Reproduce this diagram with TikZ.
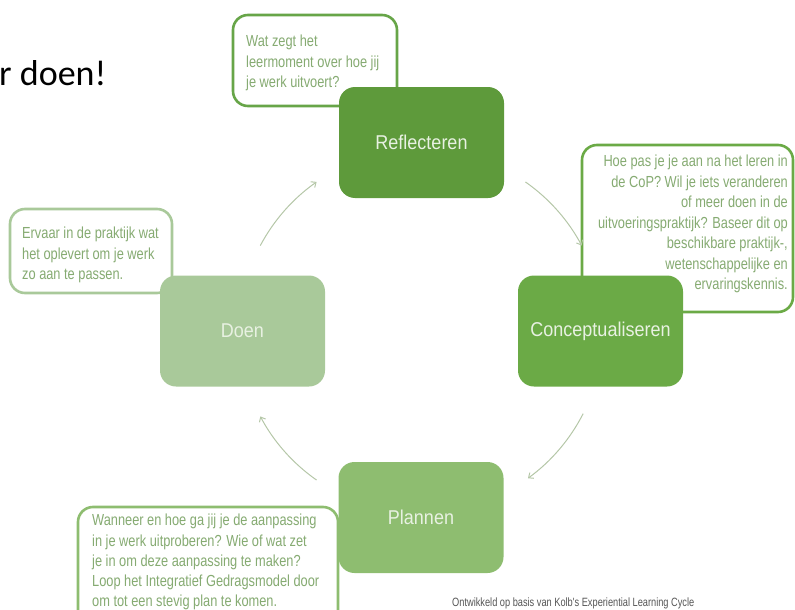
\documentclass[tikz,border=0pt]{standalone}
\usepackage{fontspec}
\setmainfont{Liberation Sans}
\newfontfamily\narrowfont[FakeStretch=0.8]{Liberation Sans}
\newfontfamily\labelfont[FakeStretch=0.9]{Liberation Sans}
\newfontfamily\footfont[FakeStretch=0.77]{Liberation Sans}
\newfontfamily\titlefont{Carlito}
\usetikzlibrary{arrows.meta}
\definecolor{reflc}{HTML}{5E9A3B}
\definecolor{concc}{HTML}{6BAA46}
\definecolor{planc}{HTML}{8EBD70}
\definecolor{doenc}{HTML}{A9C99A}
\definecolor{labeltext}{HTML}{E8F1E2}
\definecolor{calltext}{HTML}{86AB72}
\definecolor{arrowc}{HTML}{B5C7A8}
\definecolor{topborder}{HTML}{67A548}
\definecolor{foottext}{HTML}{555555}
\tikzset{
  stagebox/.style={rectangle, rounded corners=16pt, minimum width=165pt, minimum height=111pt, inner sep=0pt, font=\labelfont\fontsize{20}{24}\selectfont, text=labeltext},
  callout/.style={rectangle, rounded corners=15pt, line width=2.6pt, fill=white, inner sep=0pt},
  callouttext/.style={inner sep=0pt, font=\narrowfont\fontsize{16}{20.5}\selectfont, text=calltext},
  cyc/.style={draw=arrowc, line width=1pt, -{Straight Barb[length=4pt,width=7pt]}}
}
\begin{document}
\begin{tikzpicture}[x=1pt,y=1pt]
\useasboundingbox (0,0) rectangle (795,-610);
\clip (0,0) rectangle (795,-610);
% callouts
\node[callout, draw=topborder, minimum width=164pt, minimum height=91pt] (cT) at (315,-60.5) {};
\node[callout, draw=concc, minimum width=211pt, minimum height=167pt] (cR) at (687.5,-228.5) {};
\node[callout, draw=doenc, minimum width=162pt, minimum height=84pt] (cL) at (91,-251) {};
\node[callout, draw=planc, minimum width=260pt, minimum height=123pt] (cB) at (208,-568.5) {};
% callout texts
\node[callouttext, anchor=north west, align=left] (tT) at (246,-35) {Wat zegt het\\leermoment over hoe jij\\je werk uitvoert?};
\node[callouttext, anchor=north east, align=right] (tR) at (788,-155) {Hoe pas je je aan na het leren in\\de CoP? Wil je iets veranderen\\of meer doen in de\\uitvoeringspraktijk? Baseer dit op\\beschikbare praktijk-,\\wetenschappelijke en\\ervaringskennis.};
\node[callouttext, anchor=north west, align=left] (tL) at (22,-227) {Ervaar in de praktijk wat\\het oplevert om je werk\\zo aan te passen.};
\node[callouttext, anchor=north west, align=left, font=\narrowfont\fontsize{16}{20.2}\selectfont] (tB) at (92,-514) {Wanneer en hoe ga jij je de aanpassing\\in je werk uitproberen? Wie of wat zet\\je in om deze aanpassing te maken?\\Loop het Integratief Gedragsmodel door\\om tot een stevig plan te komen.};
% stage boxes
\node[stagebox, fill=reflc] (refl) at (421.5,-142.5) {Reflecteren};
\node[stagebox, fill=concc] (conc) at (600.5,-331) {Conceptualiseren};
\node[stagebox, fill=doenc] (doen) at (242.5,-331) {Doen};
\node[stagebox, fill=planc] (plan) at (421,-517.5) {Plannen};
% cycle arrows
\coordinate (cc) at (421,-331);
\coordinate (a1) at ([shift={(152:182pt)}]cc);
\coordinate (a2) at ([shift={(55:182pt)}]cc);
\coordinate (a3) at ([shift={(-27:182pt)}]cc);
\coordinate (a4) at ([shift={(-125:182pt)}]cc);
\draw[cyc] (a1) arc[start angle=152, end angle=125, radius=182pt];
\draw[cyc] (a2) arc[start angle=55, end angle=28, radius=182pt];
\draw[cyc] (a3) arc[start angle=-27, end angle=-54, radius=182pt];
\draw[cyc] (a4) arc[start angle=-125, end angle=-152, radius=182pt];
% title and footer
\node[anchor=base west, inner sep=0pt, font=\titlefont\fontsize{36}{40}\selectfont, text=black] (title) at (-1,-85) {r doen!};
\node[anchor=base west, inner sep=0pt, font=\footfont\fontsize{12}{14}\selectfont, text=foottext] (foot) at (452,-606) {Ontwikkeld op basis van Kolb's Experiential Learning Cycle};
\end{tikzpicture}
\end{document}
